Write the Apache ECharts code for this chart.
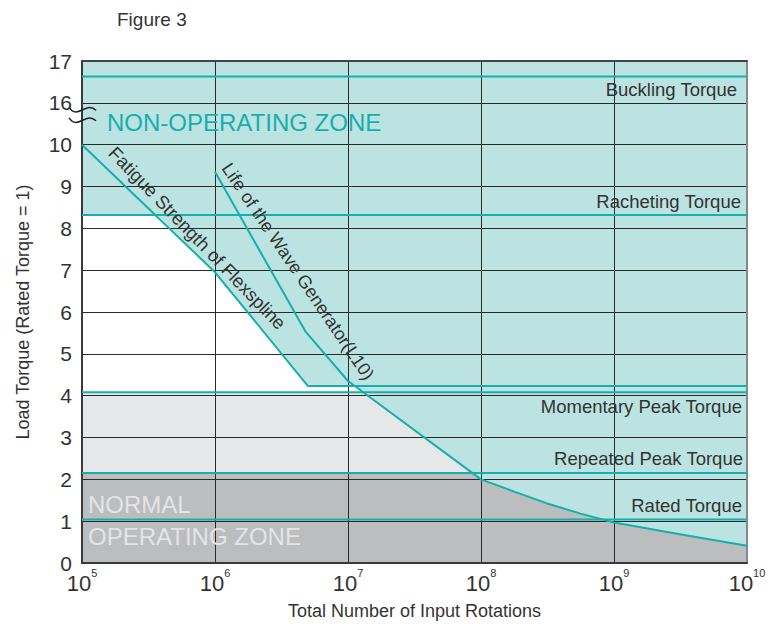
<!DOCTYPE html>
<html>
<head>
<meta charset="utf-8">
<script src="https://cdn.jsdelivr.net/npm/echarts@6/dist/echarts.min.js"></script>
<style>html,body{margin:0;padding:0;background:#fff}#c{width:783px;height:624px}</style>
</head>
<body>
<div id="c"></div>
<script>
// ---------------- data ----------------
const xTicks = [1e5, 1e6, 1e7, 1e8, 1e9, 1e10];
const yTickPositions = [0, 1, 2, 3, 4, 5, 6, 7, 8, 9, 10, 11, 12];
const yTickLabels = ['0', '1', '2', '3', '4', '5', '6', '7', '8', '9', '10', '16', '17'];

const levelNames = ['Buckling Torque', 'Racheting Torque', 'Momentary Peak Torque', 'Repeated Peak Torque', 'Rated Torque'];
const levelValues = [16.63, 8.32, 4.08, 2.15, 1.04];

const fatigueX = [1e5, 1e6, 5e6, 1e10];
const fatigueY = [10, 6.95, 4.23, 4.23];

const waveX = [1e6, 4.8e6, 1e7, 1e8, 1.8e8, 3.1e8, 5.6e8, 1e9, 3.2e9, 1e10];
const waveY = [9.35, 5.53, 4.35, 2.0, 1.70, 1.43, 1.18, 0.97, 0.68, 0.41];

// zone upper boundaries
const whiteTopX = [1e5, 3.7e5, 1e6, 5e6, 1.15e7, 1.3e7];
const whiteTopY = [8.32, 8.32, 6.95, 4.23, 4.23, 4.08];
const lightTopX = [1e5, 1.3e7, 8.6e7];
const lightTopY = [4.08, 4.08, 2.15];
const darkTopX = [1e5, 8.6e7];
const darkTopY = [2.15, 2.15];

// ---------------- helpers ----------------
const FONT = "'Liberation Sans', Arial, sans-serif";
const TEAL = '#17afac';
const TEXT = '#333333';
// broken axis: values above 10 continue at 16 -> 11, 17 -> 12
const pos = v => (v > 10 ? v - 5 : v);
const zip = (xs, ys) => xs.map((x, i) => [x, pos(ys[i])]);
const darkTop = zip(darkTopX, darkTopY).concat(zip(waveX, waveY).filter(p => p[0] >= 1e8));

const chart = echarts.init(document.getElementById('c'), null, { renderer: 'svg' });

const fillSeries = (data, color) => ({
  type: 'line', data, symbol: 'none', showSymbol: false, silent: true, z: 1,
  lineStyle: { width: 0, opacity: 0 }, areaStyle: { color, opacity: 1 }, animation: false
});
const lineSeries = (data) => ({
  type: 'line', data, symbol: 'none', showSymbol: false, silent: true, z: 4,
  lineStyle: { width: 2, color: TEAL }, animation: false
});

const series = [
  fillSeries(zip(whiteTopX, whiteTopY), '#ffffff'),
  fillSeries(zip(lightTopX, lightTopY), '#e6e7e9'),
  fillSeries(darkTop, '#bcbdbf')
];
levelValues.forEach(v => series.push(lineSeries([[xTicks[0], pos(v)], [xTicks[xTicks.length - 1], pos(v)]])));
series.push(lineSeries(zip(fatigueX, fatigueY)));
series.push(lineSeries(zip(waveX, waveY)));

const option = {
  animation: false,
  backgroundColor: '#ffffff',
  textStyle: { fontFamily: FONT },
  title: {
    text: 'Figure 3', left: 112, top: 5,
    textStyle: { fontSize: 19, fontWeight: 'normal', color: TEXT, fontFamily: FONT }
  },
  grid: {
    left: 82, right: 36, top: 61, bottom: 61, containLabel: false, outerBoundsMode: 'none',
    show: true, backgroundColor: '#bbe3e1', borderWidth: 0
  },
  xAxis: [{
    type: 'log', logBase: 10, min: xTicks[0], max: xTicks[xTicks.length - 1], z: 2,
    axisLine: { show: true, onZero: false, lineStyle: { color: '#3a3a3a', width: 2 } },
    axisTick: { show: false },
    splitLine: { show: true, lineStyle: { color: '#2a2a2a', width: 1 } },
    axisLabel: {
      margin: 4,
      formatter: v => '{b|10}{s|' + Math.round(Math.log10(v)) + '}',
      rich: {
        b: { fontSize: 22, lineHeight: 32, color: TEXT, fontFamily: FONT },
        s: { fontSize: 11, lineHeight: 12, verticalAlign: 'top', color: TEXT, fontFamily: FONT }
      }
    },
    name: 'Total Number of Input Rotations', nameLocation: 'middle', nameGap: 39,
    nameTextStyle: { fontSize: 18, color: TEXT, fontFamily: FONT }
  }, {
    type: 'log', logBase: 10, min: xTicks[0], max: xTicks[xTicks.length - 1], position: 'top', z: 2,
    axisLine: { show: true, onZero: false, lineStyle: { color: '#444', width: 2 } },
    axisTick: { show: false }, axisLabel: { show: false }, splitLine: { show: false }
  }],
  yAxis: [{
    type: 'value', min: 0, max: 12, interval: 1, z: 2,
    axisLine: { show: true, onZero: false, lineStyle: { color: '#3a3a3a', width: 2 } },
    axisTick: { show: false },
    splitLine: { show: true, lineStyle: { color: '#2a2a2a', width: 1 } },
    axisLabel: {
      margin: 10, fontSize: 21, color: TEXT, fontFamily: FONT,
      formatter: v => { const i = yTickPositions.indexOf(v); return i >= 0 ? yTickLabels[i] : ''; }
    },
    name: 'Load Torque (Rated Torque = 1)', nameLocation: 'middle', nameGap: 50,
    nameTextStyle: { fontSize: 18, color: TEXT, fontFamily: FONT }
  }, {
    type: 'value', min: 0, max: 12, position: 'right', z: 2,
    axisLine: { show: true, onZero: false, lineStyle: { color: '#888', width: 2 } },
    axisTick: { show: false }, axisLabel: { show: false }, splitLine: { show: false }
  }],
  series
};
chart.setOption(option);

// ---------------- annotations (placed through the chart's own scales) ----------------
const px = (x, y) => chart.convertToPixel({ gridIndex: 0 }, [x, y]);
const xR = px(xTicks[xTicks.length - 1], 0)[0];
const x0 = px(xTicks[0], 0)[0];
const labelDx = [-10, -6, -5, -4, -5];
const labelDy = [13, -13, 14.5, -15, -14];
const graphics = [];
levelNames.forEach((name, i) => {
  const y = px(xTicks[0], pos(levelValues[i]))[1];
  graphics.push({
    type: 'text', x: xR + labelDx[i], y: y + labelDy[i], z: 20, silent: true,
    style: { text: name, font: '18.5px ' + FONT, fill: TEXT, align: 'right', verticalAlign: 'middle' }
  });
});
const fa = px(fatigueX[0], pos(fatigueY[0]));
graphics.push({
  type: 'text', x: fa[0] + 30, y: fa[1] + 5, rotation: -46 * Math.PI / 180, z: 20, silent: true,
  style: { text: 'Fatigue Strength of Flexspline', font: '18.5px ' + FONT, fill: TEXT, align: 'left', verticalAlign: 'middle' }
});
const wa = px(waveX[0], pos(waveY[0]));
graphics.push({
  type: 'text', x: wa[0] + 11, y: wa[1] - 7, rotation: -56 * Math.PI / 180, z: 20, silent: true,
  style: { text: 'Life of the Wave Generator(L10)', font: '18px ' + FONT, fill: TEXT, align: 'left', verticalAlign: 'middle' }
});
const yTop = px(xTicks[0], 11)[1];
graphics.push({
  type: 'text', x: x0 + 25, y: yTop + 19.5, z: 20, silent: true,
  style: { text: 'NON-OPERATING ZONE', font: '24px ' + FONT, fill: TEAL, align: 'left', verticalAlign: 'middle' }
});
const y1 = px(xTicks[0], 1)[1];
graphics.push({
  type: 'text', x: x0 + 6, y: y1 - 17, z: 20, silent: true,
  style: { text: 'NORMAL', font: '24px ' + FONT, fill: '#e4e4e6', align: 'left', verticalAlign: 'middle' }
});
graphics.push({
  type: 'text', x: x0 + 6, y: y1 + 15, z: 20, silent: true,
  style: { text: 'OPERATING ZONE', font: '24px ' + FONT, fill: '#e4e4e6', align: 'left', verticalAlign: 'middle' }
});
// axis break marks
[6.5, 17].forEach(dy => {
  const yy = yTop + dy;
  graphics.push({
    type: 'bezierCurve', z: 21, silent: true,
    shape: { x1: x0 - 13, y1: yy - 2, cpx1: x0 - 4, cpy1: yy + 11, cpx2: x0 + 4, cpy2: yy - 9, x2: x0 + 14, y2: yy + 1 },
    style: { stroke: '#222', lineWidth: 1.5, fill: null }
  });
});
chart.setOption({ graphic: graphics });
</script>
</body>
</html>
